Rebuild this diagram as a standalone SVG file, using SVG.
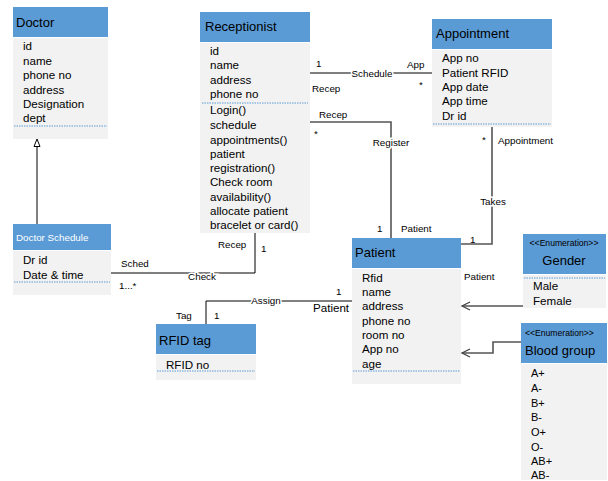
<svg xmlns="http://www.w3.org/2000/svg" width="608" height="481" viewBox="0 0 608 481">
<defs>
<style>
text{font-family:"Liberation Sans",Arial,sans-serif;fill:#000}
.hd{fill:#5B9BD5}
.bd{fill:#F2F2F2}
.dot{stroke:#5B9BD5;stroke-width:1;stroke-dasharray:1.5 1}
.t{font-size:13px}
.a{font-size:11.6px}
.s{font-size:9.8px}
.v{font-size:11px}
.e{font-size:8.6px}
.c{fill:none;stroke:#000;stroke-width:1}
.g{fill:none;stroke:#555;stroke-width:1.6}
.on{paint-order:stroke;stroke:#fff;stroke-width:3px}
</style>
<marker id="open" markerWidth="12" markerHeight="12" refX="10" refY="5" orient="auto" markerUnits="userSpaceOnUse">
<path d="M2,1 L10,5 L2,9" fill="none" stroke="#444" stroke-width="1.3"/>
</marker>
</defs>
<rect width="608" height="481" fill="#fff"/>

<g id="doctor">
<rect class="hd" x="13" y="7" width="95" height="30"/>
<rect class="bd" x="13" y="38" width="95" height="101"/>
<text class="t" x="16" y="27">Doctor</text>
<text class="a" x="23" y="50">id</text>
<text class="a" x="23" y="65">name</text>
<text class="a" x="23" y="79">phone no</text>
<text class="a" x="23" y="94">address</text>
<text class="a" x="23" y="108">Designation</text>
<text class="a" x="23" y="122">dept</text>
<line class="dot" x1="14" y1="126" x2="107" y2="126"/>
</g>

<g id="receptionist">
<rect class="hd" x="200" y="12" width="110" height="30"/>
<rect class="bd" x="200" y="43" width="110" height="190"/>
<text class="t" x="205" y="31">Receptionist</text>
<text class="a" x="210" y="55">id</text>
<text class="a" x="210" y="69">name</text>
<text class="a" x="210" y="84">address</text>
<text class="a" x="210" y="98">phone no</text>
<line class="dot" x1="202" y1="103" x2="308" y2="103"/>
<text class="a" x="210" y="114">Login()</text>
<text class="a" x="210" y="129">schedule</text>
<text class="a" x="210" y="144">appointments()</text>
<text class="a" x="210" y="158">patient</text>
<text class="a" x="210" y="172">registration()</text>
<text class="a" x="210" y="186">Check room</text>
<text class="a" x="210" y="201">availability()</text>
<text class="a" x="210" y="215">allocate patient</text>
<text class="a" x="210" y="229">bracelet or card()</text>
</g>

<g id="appointment">
<rect class="hd" x="432" y="19" width="120" height="30"/>
<rect class="bd" x="432" y="50" width="120" height="77"/>
<text class="t" x="436" y="38">Appointment</text>
<text class="a" x="442" y="62">App no</text>
<text class="a" x="442" y="77">Patient RFID</text>
<text class="a" x="442" y="91">App date</text>
<text class="a" x="442" y="105">App time</text>
<text class="a" x="442" y="120">Dr id</text>
<line class="dot" x1="433" y1="124" x2="551" y2="124"/>
</g>

<g id="doctor-schedule">
<rect class="hd" x="13" y="224" width="98" height="26"/>
<rect class="bd" x="13" y="251" width="98" height="44"/>
<text x="16" y="241" style="font-size:9.8px;fill:#fff">Doctor Schedule</text>
<text class="a" x="23" y="264">Dr id</text>
<text class="a" x="23" y="279">Date &amp; time</text>
<line class="dot" x1="14" y1="282" x2="110" y2="282"/>
</g>

<g id="patient">
<rect class="hd" x="352" y="238" width="109" height="30"/>
<rect class="bd" x="352" y="269" width="109" height="115"/>
<text class="t" x="355" y="257">Patient</text>
<text class="a" x="362" y="282">Rfid</text>
<text class="a" x="362" y="296">name</text>
<text class="a" x="362" y="310">address</text>
<text class="a" x="362" y="325">phone no</text>
<text class="a" x="362" y="339">room no</text>
<text class="a" x="362" y="353">App no</text>
<text class="a" x="362" y="368">age</text>
<line class="dot" x1="353" y1="371" x2="460" y2="371"/>
</g>

<g id="rfid-tag">
<rect class="hd" x="156" y="324" width="100" height="30"/>
<rect class="bd" x="156" y="355" width="100" height="25"/>
<text class="t" x="159" y="345">RFID tag</text>
<text class="a" x="166" y="369">RFID no</text>
<line class="dot" x1="157" y1="371" x2="255" y2="371"/>
</g>

<g id="gender">
<rect class="hd" x="523" y="234" width="83" height="40"/>
<rect class="bd" x="523" y="275" width="83" height="33"/>
<text class="e" x="564" y="246" text-anchor="middle">&lt;&lt;Enumeration&gt;&gt;</text>
<text class="t" x="564" y="265" text-anchor="middle">Gender</text>
<line class="dot" x1="524" y1="278" x2="605" y2="278"/>
<text class="a" x="533" y="290">Male</text>
<text class="a" x="533" y="305">Female</text>
</g>

<g id="blood-group">
<rect class="hd" x="521" y="323" width="86" height="40"/>
<rect class="bd" x="521" y="364" width="86" height="116"/>
<text class="e" x="525" y="336">&lt;&lt;Enumeration&gt;&gt;</text>
<text class="t" x="525" y="355">Blood group</text>
<text class="v" x="531" y="377">A+</text>
<text class="v" x="531" y="392">A-</text>
<text class="v" x="531" y="407">B+</text>
<text class="v" x="531" y="421">B-</text>
<text class="v" x="531" y="436">O+</text>
<text class="v" x="531" y="451">O-</text>
<text class="v" x="531" y="465">AB+</text>
<text class="v" x="531" y="479">AB-</text>
</g>

<g id="connectors">
<path class="c" d="M37,146 V224"/>
<polygon points="37,139 34,146.5 40,146.5" fill="#fff" stroke="#000" stroke-width="1"/>
<path class="c" d="M310,73 H432"/>
<path class="g" d="M310,122 H391 V238"/>
<path class="g" d="M492,127 V244 H461"/>
<path class="c" d="M111,273 H255 V233"/>
<path class="c" d="M206,324 V301 H352"/>
<path class="g" d="M523,306 H462" marker-end="url(#open)"/>
<path class="g" d="M521,342 H493 V353 H462" marker-end="url(#open)"/>
<text class="s" x="316" y="67">1</text>
<text class="s on" x="372" y="77" text-anchor="middle">Schedule</text>
<text class="s" x="312" y="92">Recep</text>
<text class="s" x="407" y="68">App</text>
<text class="s" x="419" y="88">*</text>
<text class="s" x="319" y="118">Recep</text>
<text class="s" x="314" y="137">*</text>
<text class="s on" x="391" y="146" text-anchor="middle">Register</text>
<text class="s" x="377" y="232">1</text>
<text class="s" x="401" y="232">Patient</text>
<text class="s" x="482" y="143">*</text>
<text class="s" x="498" y="144">Appointment</text>
<text class="s on" x="493" y="205" text-anchor="middle">Takes</text>
<text class="s" x="470" y="243">1</text>
<text class="s" x="218" y="248">Recep</text>
<text class="s" x="261" y="252">1</text>
<text class="s" x="121" y="267">Sched</text>
<text class="s" x="119" y="289">1...*</text>
<text class="s on" x="202" y="280" text-anchor="middle">Check</text>
<text class="s on" x="266" y="304" text-anchor="middle">Assign</text>
<text class="s" x="176" y="319">Tag</text>
<text class="s" x="214" y="319">1</text>
<text class="s" x="336" y="295">1</text>
<text class="a" x="313" y="312">Patient</text>
<text class="s" x="464" y="280">Patient</text>
</g>
</svg>
